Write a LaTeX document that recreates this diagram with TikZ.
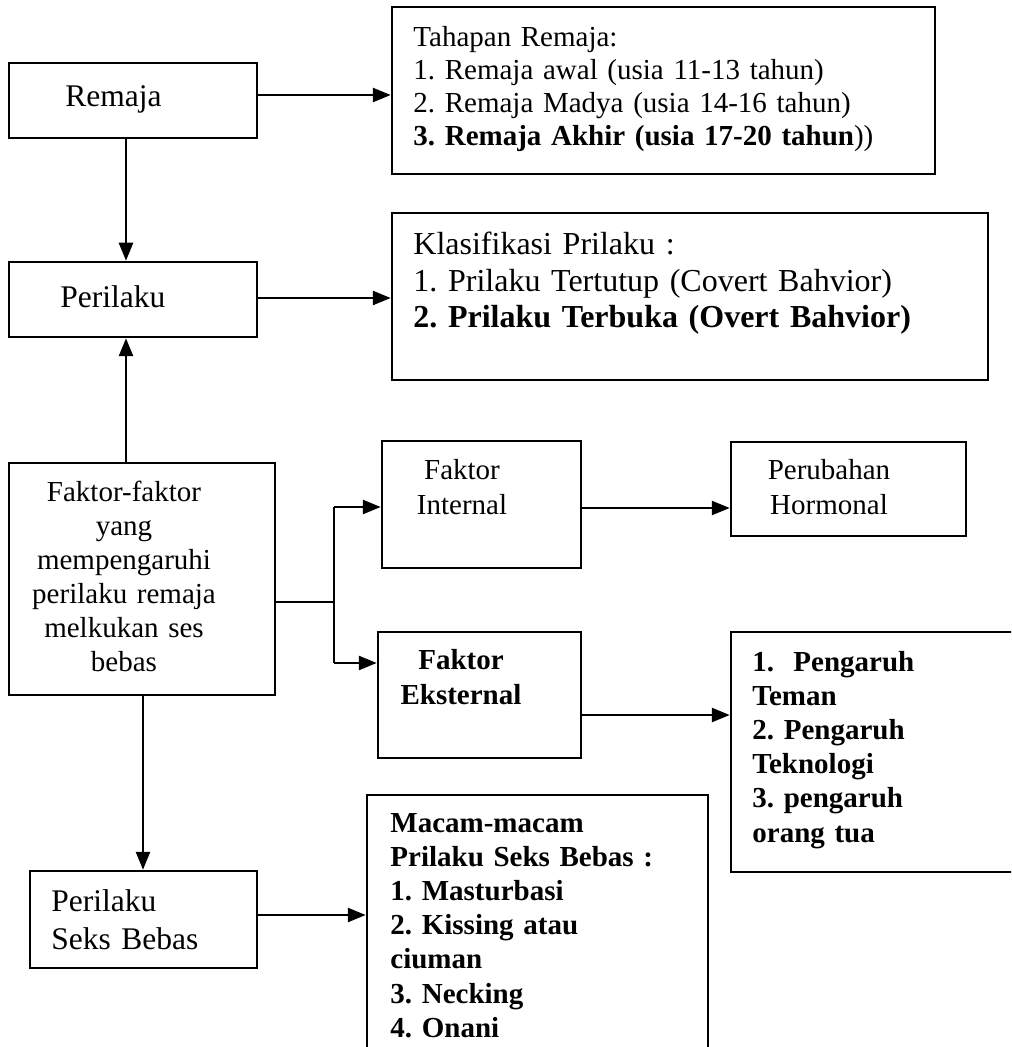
\documentclass[tikz,border=0pt]{standalone}
\usepackage{fontspec}
\setmainfont{Liberation Serif}
\usetikzlibrary{arrows.meta}
\frenchspacing
\begin{document}
\begin{tikzpicture}[x=0.5pt,y=-0.5pt,
  box/.style={draw, line width=1.25pt, rectangle, inner sep=0pt},
  arr/.style={line width=1.3pt, -{Triangle[length=9pt,width=7pt]}},
  ln/.style={line width=1.3pt},
  txtl/.style={inner sep=0pt, anchor=base west, align=left, text width=#1},
  txtc/.style={inner sep=0pt, anchor=base, align=center, text width=#1},
  fbig/.style={font=\fontsize{15.75}{19}\selectfont},
  fthp/.style={font=\fontsize{14.5}{16.5}\selectfont},
  fkls/.style={font=\fontsize{16}{18.25}\selectfont},
  ffak/.style={font=\fontsize{14.5}{17}\selectfont},
  fmid/.style={font=\fontsize{14.5}{17.5}\selectfont},
  fmidb/.style={font=\fontsize{14.5}{17.5}\selectfont\bfseries},
  fbld/.style={font=\fontsize{14.5}{17.1}\selectfont\bfseries},
]
\clip (0,0) rectangle (1011,1047);
\fill[white] (0,0) rectangle (1011,1047);

% boxes
\node[box, minimum width=124pt, minimum height=37.5pt] (remaja) at (133,100.5) {};
\node[box, minimum width=271.5pt, minimum height=83.5pt] (tahapan) at (663.5,90.5) {};
\node[box, minimum width=124pt, minimum height=37.5pt] (perilaku) at (133,299.5) {};
\node[box, minimum width=298pt, minimum height=83.5pt] (klas) at (690,296.5) {};
\node[box, minimum width=133pt, minimum height=116pt] (faktor) at (142,579) {};
\node[box, minimum width=99.5pt, minimum height=63.5pt] (internal) at (481.5,504.5) {};
\node[box, minimum width=117.5pt, minimum height=47pt] (perubahan) at (848.5,489) {};
\node[box, minimum width=101.5pt, minimum height=63pt] (eksternal) at (479.5,695) {};
\node[box, minimum width=149.5pt, minimum height=120pt] (pengaruh) at (880.5,752) {};
\node[box, minimum width=113.5pt, minimum height=48.5pt] (psb) at (143.5,919.5) {};
\node[box, minimum width=170.5pt, minimum height=137.5pt] (macam) at (537.5,932.5) {};

% texts
\node[txtl=120pt, fbig] (tremaja) at (65,107) {Remaja};
\node[txtl=260pt, fthp] (ttahapan) at (413,47) {Tahapan Remaja:\\
1. Remaja awal (usia 11-13 tahun)\\
2. Remaja Madya (usia 14-16 tahun)\\
\textbf{3. Remaja Akhir (usia 17-20 tahun}))};
\node[txtl=120pt, fbig] (tperilaku) at (60,308) {Perilaku};
\node[txtl=285pt, fkls] (tklas) at (413,255) {Klasifikasi Prilaku :\\
1. Prilaku Tertutup (Covert Bahvior)\\
\textbf{2. Prilaku Terbuka (Overt Bahvior)}};
\node[txtc=120pt, ffak] (tfaktor) at (124,501) {Faktor-faktor\\ yang\\ mempengaruhi\\ perilaku remaja\\ melkukan ses\\ bebas};
\node[txtc=90pt, fmid] (tinternal) at (462,479) {Faktor\\ Internal};
\node[txtc=110pt, fmid] (tperubahan) at (829,479) {Perubahan\\ Hormonal};
\node[txtc=90pt, fmidb] (teksternal) at (461,669) {Faktor\\ Eksternal};
\node[txtl=125pt, fbld] (tpengaruh) at (752,671) {1.\ \ Pengaruh\\ Teman\\ 2. Pengaruh\\ Teknologi\\ 3. pengaruh\\ orang tua};
\node[txtl=110pt, fbig] (tpsb) at (51,911) {Perilaku\\ Seks Bebas};
\node[txtl=160pt, fbld] (tmacam) at (390,832) {Macam-macam\\ Prilaku Seks Bebas :\\ 1. Masturbasi\\ 2. Kissing atau\\ ciuman\\ 3. Necking\\ 4. Onani};

% connectors
\draw[arr] (remaja.east |- 0,95) -- (tahapan.west |- 0,95);
\draw[arr] (remaja.south -| 126,0) -- (perilaku.north -| 126,0);
\draw[arr] (perilaku.east |- 0,298) -- (klas.west |- 0,298);
\draw[arr] (faktor.north -| 126,0) -- (perilaku.south -| 126,0);
\coordinate (br) at (334,602);
\coordinate (bt) at (334,507);
\coordinate (bb) at (334,663);
\draw[ln] (faktor.east |- br) -- (br);
\draw[ln] (bt) -- (bb);
\draw[arr] (bt) -- (internal.west |- bt);
\draw[arr] (bb) -- (eksternal.west |- bb);
\draw[arr] (internal.east |- 0,508) -- (perubahan.west |- 0,508);
\draw[arr] (eksternal.east |- 0,715) -- (pengaruh.west |- 0,715);
\draw[arr] (faktor.south -| 143,0) -- (psb.north -| 143,0);
\draw[arr] (psb.east |- 0,915) -- (macam.west |- 0,915);
\end{tikzpicture}
\end{document}
